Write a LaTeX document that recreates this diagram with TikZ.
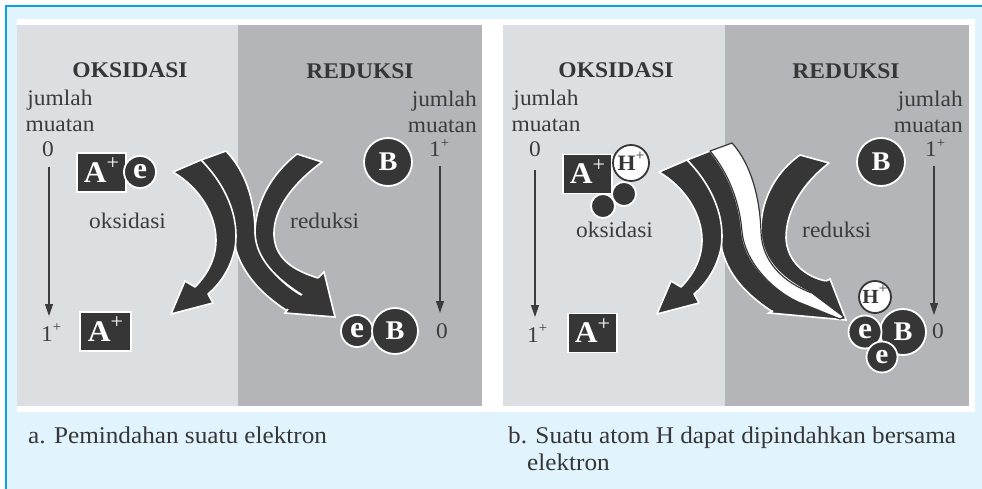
\documentclass[tikz,border=0pt]{standalone}
\usepackage{fontspec}
\setmainfont[FakeStretch=1.05]{Liberation Serif}
\usetikzlibrary{arrows.meta}
\definecolor{ink}{HTML}{363636}
\definecolor{txt}{HTML}{3C3C3C}
\definecolor{lgray}{HTML}{DCDFE2}
\definecolor{dgray}{HTML}{B3B5B8}
\definecolor{bluebg}{HTML}{E1F3FC}
\definecolor{blueln}{HTML}{0AA3E0}
\newcommand\myplus{\raisebox{9.5pt}[0pt][0pt]{\fontsize{14}{14}\selectfont +}}
\newcommand\aplus{\raisebox{12.5pt}[0pt][0pt]{\mdseries\fontsize{21}{21}\selectfont +}}
\newcommand\hplus{\raisebox{10pt}[0pt][0pt]{\mdseries\fontsize{15}{15}\selectfont +}}
\begin{document}
\begin{tikzpicture}[x=1pt,y=-1pt,
  band/.style={fill=ink, draw=white, line width=1.6pt, line join=round},
  headline/.style={draw=white, line width=1.6pt, line join=miter},
  wband/.style={fill=white, draw=ink, line width=1.2pt, line join=round},
  lbl/.style={text=txt, font=\fontsize{22.3}{26}\selectfont, inner sep=0pt},
  hdr/.style={text=ink, font=\bfseries\fontsize{22.4}{26}\selectfont, inner sep=0pt},
  captext/.style={text=ink, font=\fontsize{24}{28}\selectfont, inner sep=0pt, anchor=base west},
  varrow/.style={draw=txt, line width=1.1pt, -{Triangle[width=8pt,length=12pt]}},
  dcirc/.style={circle, fill=ink, draw=white, line width=1.8pt, inner sep=0pt, text=white, font=\bfseries\fontsize{30}{30}\selectfont},
  bcirc/.style={dcirc, font=\bfseries\fontsize{27}{27}\selectfont},
  wcirc/.style={circle, fill=white, draw=ink, line width=1.8pt, inner sep=0pt, text=ink, font=\bfseries\fontsize{22}{22}\selectfont},
  abox/.style={rectangle, fill=ink, draw=white, line width=1.8pt, inner sep=0pt, minimum width=49pt, minimum height=39pt, text=white, font=\bfseries\fontsize{30}{30}\selectfont}
]
\useasboundingbox (0,0) rectangle (982,489);
% frame and panels
\fill[white] (0,0) rectangle (982,489);
\fill[bluebg] (5,5) rectangle (982,489);
\draw[blueln, line width=2.4pt] (6,489) -- (6,6) -- (982,6);
\fill[white] (17,19) rectangle (975,412);
\fill[lgray] (17,25) rectangle (238,406);
\fill[dgray] (238,25) rectangle (482,406);
\fill[lgray] (503,25) rectangle (725,406);
\fill[dgray] (725,25) rectangle (969,406);

% ---------------- panel a ----------------
\node[hdr, anchor=base] (oksA) at (130,78) {OKSIDASI};
\node[hdr, anchor=base] (redA) at (360,79) {REDUKSI};
\node[lbl, anchor=base] (jumA1) at (60,106) {jumlah};
\node[lbl, anchor=base] (muaA1) at (60,132) {muatan};
\node[lbl, anchor=base] (zeroA1) at (48,157) {0};
\node[lbl, anchor=base west] (oneA1) at (41,341) {1\myplus};
\coordinate (vaA1t) at (49,167); \coordinate (vaA1b) at (49,316);
\draw[varrow] (vaA1t) -- (vaA1b);
\node[lbl, anchor=base east] (jumA2) at (477,107) {jumlah};
\node[lbl, anchor=base east] (muaA2) at (477,133) {muatan};
\node[lbl, anchor=base west] (oneA2) at (429,157) {1\myplus};
\node[lbl, anchor=base] (zeroA2) at (442,338) {0};
\coordinate (vaA2t) at (440,166); \coordinate (vaA2b) at (440,313);
\draw[varrow] (vaA2t) -- (vaA2b);
\node[lbl, anchor=base west] (oksdA) at (89,229) {oksidasi};
\node[lbl, anchor=base west] (reddA) at (290,228) {reduksi};

% electron band
\draw[band] (201,160) -- (226,151) .. controls (246,172) and (254,200) .. (255,228)
  .. controls (257,258) and (280,285) .. (307,298) -- (289,312)
  .. controls (270,300) and (245,280) .. (236,250)
  .. controls (232,212) and (222,182) .. (201,160) -- cycle;
% oxidation arrow
\draw[band] (173,172) -- (201,160) .. controls (226,185) and (240,218) .. (235,248)
  .. controls (231,268) and (220,284) .. (208,294) -- (213,303) -- (171,314) -- (185,281)
  -- (195,287) .. controls (208,274) and (216,258) .. (216,240)
  .. controls (216,215) and (200,188) .. (173,172) -- cycle;
% reduction band
\draw[band] (297,154) -- (322,162) .. controls (295,182) and (273,208) .. (274,235)
  .. controls (275,258) and (292,270) .. (318,278) -- (322,283) -- (307,298)
  .. controls (282,283) and (256,262) .. (255,233)
  .. controls (255,205) and (270,175) .. (297,154) -- cycle;
% shared head
\fill[ink] (324,272) -- (335,317) -- (285,313) -- cycle;
\draw[headline] (318,278) -- (324,272) -- (335,317) -- (285,313) -- (288,309);

\node[abox] (apA1) at (101.5,172.5) {A\aplus};
\node[dcirc, minimum size=32pt] (eA1) at (140,172) {e};
\node[abox, minimum width=51pt] (apA2) at (105.5,331.5) {A\aplus};
\node[bcirc, minimum size=48pt] (bA1) at (388,162) {B};
\node[dcirc, minimum size=32pt] (eA2) at (357,331) {e};
\node[bcirc, minimum size=46pt] (bA2) at (395,331) {B};

% ---------------- panel b ----------------
\node[hdr, anchor=base] (oksB) at (616,78) {OKSIDASI};
\node[hdr, anchor=base] (redB) at (846,79) {REDUKSI};
\node[lbl, anchor=base] (jumB1) at (546,106) {jumlah};
\node[lbl, anchor=base] (muaB1) at (546,132) {muatan};
\node[lbl, anchor=base] (zeroB1) at (535,157) {0};
\node[lbl, anchor=base west] (oneB1) at (527,342) {1\myplus};
\coordinate (vaB1t) at (535,170); \coordinate (vaB1b) at (535,317);
\draw[varrow] (vaB1t) -- (vaB1b);
\node[lbl, anchor=base east] (jumB2) at (963,107) {jumlah};
\node[lbl, anchor=base east] (muaB2) at (963,133) {muatan};
\node[lbl, anchor=base west] (oneB2) at (925,157) {1\myplus};
\node[lbl, anchor=base] (zeroB2) at (938,338) {0};
\coordinate (vaB2t) at (934,166); \coordinate (vaB2b) at (934,315);
\draw[varrow] (vaB2t) -- (vaB2b);
\node[lbl, anchor=base west] (oksdB) at (576,237) {oksidasi};
\node[lbl, anchor=base west] (reddB) at (802,237) {reduksi};

% electron band
\draw[band] (687,160) -- (710,151) .. controls (730,175) and (740,205) .. (742,232)
  .. controls (745,262) and (770,287) .. (799,302) -- (778,313) -- (772,311.5)
  .. controls (752,298) and (730,280) .. (722,250)
  .. controls (718,212) and (708,182) .. (687,160) -- cycle;
% oxidation arrow
\draw[band] (659,172) -- (687,160) .. controls (712,185) and (726,218) .. (721,248)
  .. controls (717,268) and (706,284) .. (694,294) -- (699,303) -- (657,314) -- (671,281)
  -- (681,287) .. controls (694,274) and (702,258) .. (702,240)
  .. controls (702,215) and (686,188) .. (659,172) -- cycle;
% reduction band
\draw[band] (800,155) -- (829,163) .. controls (803,183) and (786,210) .. (786,238)
  .. controls (787,262) and (806,277) .. (826,281) -- (832,288) -- (815,295)
  .. controls (785,282) and (762,262) .. (761,232)
  .. controls (760,205) and (772,175) .. (800,155) -- cycle;
% shared head
\fill[ink] (830,279) -- (846,320) -- (769,313) -- cycle;
\draw[headline] (826,281) -- (830,279) -- (846,320) -- (769,313) -- (773,311);
% hydrogen (white) band
\draw[wband] (710,151) -- (732,143) .. controls (752,165) and (760,200) .. (761,232)
  .. controls (762,262) and (784,283) .. (812,293) -- (844,317) -- (840,319)
  -- (798,302) .. controls (772,290) and (745,262) .. (742,232)
  .. controls (740,205) and (730,175) .. (710,151) -- cycle;

\node[abox] (apB1) at (587.5,174) {A\aplus};
\node[wcirc, minimum size=36pt] (hB1) at (631,163) {H\hplus};
\node[dcirc, minimum size=24pt] (ecB1) at (624,194) {};
\node[dcirc, minimum size=24pt] (ecB2) at (603,206) {};
\node[abox] (apB2) at (592.5,333) {A\aplus};
\node[bcirc, minimum size=48pt] (bB1) at (881,162) {B};
\node[bcirc, minimum size=46pt] (bB2) at (903,332) {B};
\node[dcirc, minimum size=33pt] (eB1) at (865,332) {e};
\node[wcirc, minimum size=32pt, font=\bfseries\fontsize{20}{20}\selectfont] (hB2) at (875,297) {H\hplus};
\node[dcirc, minimum size=31pt, font=\bfseries\fontsize{28}{28}\selectfont] (eB2) at (882,357) {e};

% captions
\node[captext] (capA) at (28,443) {a. Pemindahan suatu elektron};
\node[captext] (capB1) at (508,443) {b. Suatu atom H dapat dipindahkan bersama};
\node[captext] (capB2) at (527,470) {elektron};
\end{tikzpicture}
\end{document}
